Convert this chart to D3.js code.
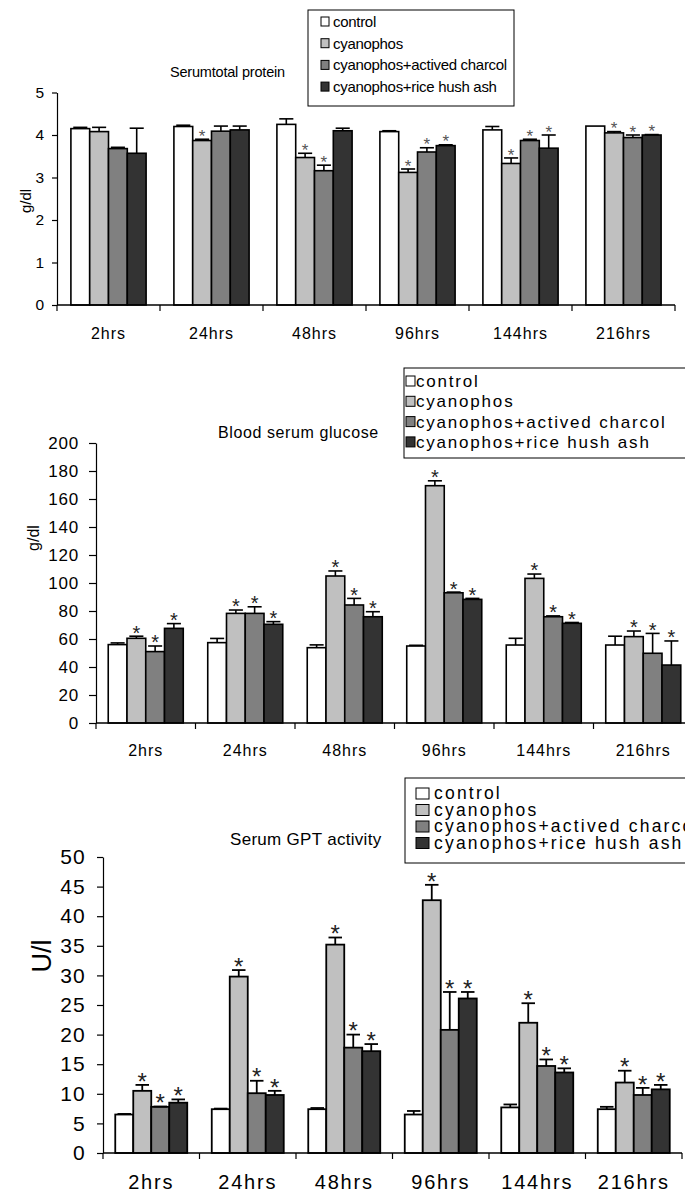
<!DOCTYPE html>
<html>
<head>
<meta charset="utf-8">
<script src="https://cdn.jsdelivr.net/npm/d3@7"></script>
<style>
  html,body{margin:0;padding:0;background:#fff;}
  svg{display:block;}
  text{font-family:"Liberation Sans", Arial, sans-serif;fill:#000;}
</style>
</head>
<body>
<svg id="chart" width="685" height="1194"></svg>
<script>
// ---------- DATA ----------
const categories = ["2hrs","24hrs","48hrs","96hrs","144hrs","216hrs"];
const seriesNames = ["control","cyanophos","cyanophos+actived charcol","cyanophos+rice hush ash"];
const seriesColors = ["#ffffff","#c0c0c0","#808080","#333333"];

// Serum total protein (g/dl)
const proteinControl   = [4.15, 4.20, 4.25, 4.08, 4.12, 4.21];
const proteinCyanophos = [4.08, 3.87, 3.47, 3.12, 3.33, 4.05];
const proteinCharcol   = [3.68, 4.09, 3.16, 3.60, 3.87, 3.94];
const proteinRice      = [3.57, 4.12, 4.10, 3.75, 3.69, 4.00];
const proteinErrControl   = [0.03, 0.03, 0.13, 0.02, 0.08, 0.00];
const proteinErrCyanophos = [0.10, 0.03, 0.10, 0.08, 0.13, 0.03];
const proteinErrCharcol   = [0.03, 0.12, 0.13, 0.10, 0.03, 0.06];
const proteinErrRice      = [0.59, 0.09, 0.06, 0.02, 0.31, 0.01];
const proteinStars = [[0,0,0,0,0,0],[0,1,1,1,1,1],[0,0,1,1,1,1],[0,0,0,1,1,1]];
const proteinTicks = [0,1,2,3,4,5];

// Blood serum glucose
const glucoseControl   = [56.0, 57.4, 53.8, 55.0, 55.7, 55.7];
const glucoseCyanophos = [60.5, 78.3, 105.0, 169.5, 103.3, 61.7];
const glucoseCharcol   = [51.0, 78.3, 84.3, 93.0, 75.9, 49.8];
const glucoseRice      = [67.6, 70.5, 75.9, 88.3, 71.2, 41.4];
const glucoseErrControl   = [1.2, 3.0, 2.0, 0.5, 4.8, 6.3];
const glucoseErrCyanophos = [1.5, 2.4, 3.6, 3.5, 3.1, 4.0];
const glucoseErrCharcol   = [4.0, 4.7, 4.7, 0.5, 0.6, 14.2];
const glucoseErrRice      = [3.4, 1.9, 3.6, 0.7, 0.6, 17.2];
const glucoseStars = [[0,0,0,0,0,0],[1,1,1,1,1,1],[1,1,1,1,1,1],[1,1,1,1,1,1]];
const glucoseTicks = [0,20,40,60,80,100,120,140,160,180,200];

// Serum GPT activity (U/l)
const gptControl   = [6.5, 7.4, 7.4, 6.5, 7.7, 7.4];
const gptCyanophos = [10.5, 29.8, 35.2, 42.7, 22.0, 11.9];
const gptCharcol   = [7.8, 10.1, 17.8, 20.8, 14.7, 9.8];
const gptRice      = [8.5, 9.8, 17.2, 26.1, 13.6, 10.75];
const gptErrControl   = [0.1, 0.1, 0.2, 0.6, 0.5, 0.4];
const gptErrCyanophos = [1.0, 1.1, 1.2, 2.6, 3.3, 2.0];
const gptErrCharcol   = [0.05, 2.1, 2.2, 6.4, 1.1, 1.2];
const gptErrRice      = [0.55, 0.7, 1.2, 1.1, 0.7, 0.75];
const gptStars = [[0,0,0,0,0,0],[1,1,1,1,1,1],[1,1,1,1,1,1],[1,1,1,1,1,1]];
const gptTicks = [0,5,10,15,20,25,30,35,40,45,50];

// ---------- DRAW ----------
const svg = d3.select("#chart");

function panel(cfg){
  const g = svg.append("g");
  const x = d3.scaleBand().domain(categories).range([cfg.x0, cfg.x1]).padding(0);
  const pad = x.step()*cfg.groupPad;
  const xs = d3.scaleBand().domain(d3.range(seriesNames.length)).range([pad, x.step()-pad]).padding(0);
  const y = d3.scaleLinear().domain([0, cfg.ymax]).range([cfg.y0, cfg.y1]);

  const rows = [];
  cfg.values.forEach((arr, s) => arr.forEach((v, c) => rows.push({s, c, v, e: cfg.errs[s][c], star: cfg.stars[s][c]})));
  const cx = d => x(categories[d.c]) + xs(d.s) + xs.bandwidth()/2;

  // bars
  g.selectAll("rect.bar").data(rows).join("rect")
    .attr("x", d => x(categories[d.c]) + xs(d.s))
    .attr("y", d => y(d.v))
    .attr("width", xs.bandwidth())
    .attr("height", d => y(0) - y(d.v))
    .attr("fill", d => seriesColors[d.s])
    .attr("stroke", "#000").attr("stroke-width", cfg.barStroke);

  // error bars
  const cap = xs.bandwidth()*0.75;
  const eg = g.selectAll("g.err").data(rows.filter(d => d.e > 0)).join("g");
  eg.append("line")
    .attr("x1", cx).attr("x2", cx)
    .attr("y1", d => y(d.v)).attr("y2", d => y(d.v + d.e))
    .attr("stroke", "#000").attr("stroke-width", cfg.barStroke);
  eg.append("line")
    .attr("x1", d => cx(d) - cap/2).attr("x2", d => cx(d) + cap/2)
    .attr("y1", d => y(d.v + d.e)).attr("y2", d => y(d.v + d.e))
    .attr("stroke", "#000").attr("stroke-width", cfg.barStroke);

  // stars (glyph centre sits ~0.57em above baseline)
  g.selectAll("text.star").data(rows.filter(d => d.star)).join("text")
    .attr("x", cx)
    .attr("y", d => y(d.v + d.e) - cfg.starGap + 0.57*cfg.starSize)
    .attr("text-anchor", "middle")
    .style("font-size", cfg.starSize + "px")
    .style("fill", cfg.starColor)
    .text("*");

  // y axis
  const ya = d3.axisLeft(y).tickValues(cfg.ticks).tickFormat(d3.format("d"))
    .tickSize(cfg.tickLen).tickPadding(cfg.tickPad).tickSizeOuter(0);
  const yg = g.append("g").attr("transform", `translate(${cfg.x0},0)`).call(ya);
  yg.select(".domain").attr("stroke", "#000").attr("stroke-width", 1.2);
  yg.selectAll(".tick line").attr("stroke", "#000").attr("stroke-width", 1.2);
  yg.selectAll(".tick text")
    .style("font-size", cfg.tickFont + "px")
    .style("letter-spacing", cfg.tickSpacing + "px")
    .attr("fill", "#000");

  // x axis: baseline plus boundary ticks
  g.append("line").attr("x1", cfg.x0).attr("x2", cfg.x1).attr("y1", y(0)).attr("y2", y(0))
    .attr("stroke", "#000").attr("stroke-width", 1.5);
  const bounds = categories.map(c => x(c)).concat([cfg.x1]);
  g.selectAll("line.xt").data(bounds).join("line")
    .attr("x1", d => d).attr("x2", d => d)
    .attr("y1", y(0)).attr("y2", y(0) + 6)
    .attr("stroke", "#000").attr("stroke-width", 1.2);
  g.selectAll("text.xl").data(categories).join("text")
    .attr("x", d => x(d) + x.step()/2)
    .attr("y", cfg.xLabelY)
    .attr("text-anchor", "middle")
    .style("font-size", cfg.xFont + "px")
    .style("letter-spacing", cfg.xSpacing + "px")
    .text(d => d);

  // y label
  g.append("text")
    .attr("transform", `translate(${cfg.yLabelX},${cfg.yLabelY}) rotate(-90)`)
    .attr("text-anchor", "middle")
    .style("font-size", cfg.yLabelFont + "px")
    .text(cfg.yLabel);

  // title
  g.append("text").attr("x", cfg.titleX).attr("y", cfg.titleY)
    .style("font-size", cfg.titleFont + "px")
    .style("letter-spacing", cfg.titleSpacing + "px")
    .text(cfg.title);

  // legend
  const L = cfg.legend;
  g.append("rect").attr("x", L.x).attr("y", L.y).attr("width", L.w).attr("height", L.h)
    .attr("fill", "#fff").attr("stroke", "#000").attr("stroke-width", 1);
  const li = g.selectAll("g.li").data(seriesNames).join("g")
    .attr("transform", (d, i) => `translate(0,${L.base0 + i*L.step})`);
  li.append("rect")
    .attr("x", L.swX).attr("y", -L.swH - L.swLift).attr("width", L.swW).attr("height", L.swH)
    .attr("fill", (d, i) => seriesColors[i]).attr("stroke", "#000").attr("stroke-width", 1);
  li.append("text").attr("x", L.textX).attr("y", 0)
    .style("font-size", L.font + "px")
    .style("letter-spacing", L.spacing + "px")
    .text(d => d);
}

panel({
  values: [proteinControl, proteinCyanophos, proteinCharcol, proteinRice],
  errs: [proteinErrControl, proteinErrCyanophos, proteinErrCharcol, proteinErrRice],
  stars: proteinStars, ticks: proteinTicks, ymax: 5,
  x0: 57, x1: 675, y0: 305, y1: 92.5, groupPad: 0.135, barStroke: 1.6,
  starGap: 7, starSize: 17, starColor: "#555",
  tickLen: 5, tickPad: 8, tickFont: 15.5, tickSpacing: 0,
  xLabelY: 339, xFont: 16, xSpacing: 1,
  yLabel: "g/dl", yLabelX: 31, yLabelY: 201, yLabelFont: 15,
  title: "Serumtotal protein", titleX: 170, titleY: 77, titleFont: 14.5, titleSpacing: -0.2,
  legend: {x: 308, y: 10, w: 206, h: 96, base0: 27, step: 21.7, swX: 321, swW: 8, swH: 9, swLift: 1,
           textX: 333, font: 15, spacing: -0.3}
});

panel({
  values: [glucoseControl, glucoseCyanophos, glucoseCharcol, glucoseRice],
  errs: [glucoseErrControl, glucoseErrCyanophos, glucoseErrCharcol, glucoseErrRice],
  stars: glucoseStars, ticks: glucoseTicks, ymax: 200,
  x0: 96, x1: 693, y0: 723, y1: 443, groupPad: 0.123, barStroke: 1.6,
  starGap: 8, starSize: 20, starColor: "#222",
  tickLen: 7, tickPad: 10, tickFont: 17, tickSpacing: 0.8,
  xLabelY: 756, xFont: 16, xSpacing: 1,
  yLabel: "g/dl", yLabelX: 39, yLabelY: 538, yLabelFont: 16,
  title: "Blood serum glucose", titleX: 218, titleY: 438, titleFont: 16, titleSpacing: 0.6,
  legend: {x: 404, y: 368, w: 300, h: 90, base0: 387, step: 20.3, swX: 406, swW: 9, swH: 10, swLift: 1,
           textX: 416, font: 17, spacing: 1.8}
});

panel({
  values: [gptControl, gptCyanophos, gptCharcol, gptRice],
  errs: [gptErrControl, gptErrCyanophos, gptErrCharcol, gptErrRice],
  stars: gptStars, ticks: gptTicks, ymax: 50,
  x0: 103, x1: 682, y0: 1153, y1: 857, groupPad: 0.127, barStroke: 1.8,
  starGap: 9, starSize: 24, starColor: "#222",
  tickLen: 6, tickPad: 11, tickFont: 21, tickSpacing: 1.2,
  xLabelY: 1189, xFont: 20, xSpacing: 1.8,
  yLabel: "U/l", yLabelX: 51, yLabelY: 956, yLabelFont: 27,
  title: "Serum GPT activity", titleX: 230, titleY: 845, titleFont: 17, titleSpacing: 0.3,
  legend: {x: 405, y: 778, w: 300, h: 85, base0: 799, step: 16.5, swX: 416, swW: 13, swH: 11, swLift: 0,
           textX: 434, font: 17.5, spacing: 2.2}
});
</script>
</body>
</html>
